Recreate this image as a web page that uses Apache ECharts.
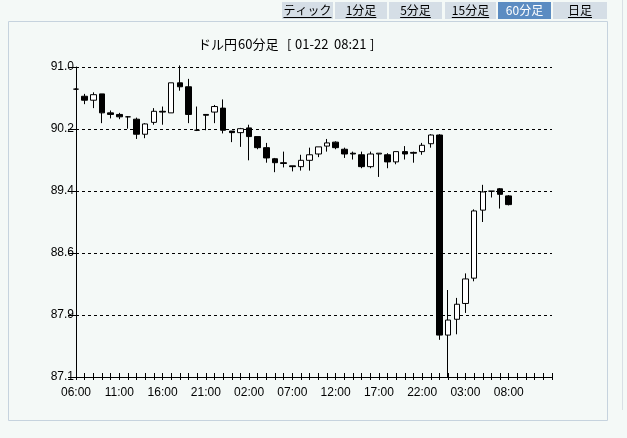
<!DOCTYPE html>
<html><head><meta charset="utf-8">
<script src="https://cdn.jsdelivr.net/npm/echarts@6/dist/echarts.min.js"></script>
<style>html,body{margin:0;padding:0;background:#f4f9f7;}#c{width:627px;height:438px;}</style>
</head><body><div id="c"></div>
<script>
// ---- data ----
const hours = ['06:00','07:00','08:00','09:00','10:00','11:00','12:00','13:00','14:00','15:00','16:00','17:00','18:00','19:00','20:00','21:00','22:00','23:00',
 '00:00','01:00','02:00','03:00','04:00','05:00','06:00','07:00','08:00','09:00','10:00','11:00','12:00','13:00','14:00','15:00','16:00','17:00','18:00','19:00','20:00','21:00','22:00','23:00',
 '00:00','01:00','02:00','03:00','04:00','05:00','06:00','07:00','08:00','09:00','10:00','11:00','12:00','13:00'];
const openP  = [90.72,90.63,90.58,90.66,90.42,90.40,90.37,90.34,90.15,90.30,90.44,90.42,90.80,90.75,90.20,90.40,90.43,90.48,90.19,90.17,
  90.23,90.12,89.98,89.84,89.79,89.75,89.74,89.82,89.90,90.00,90.05,89.96,89.91,89.89,89.74,89.90,89.89,89.80,89.93,89.92,
  89.93,90.03,90.14,87.61,87.81,88.01,88.33,89.19,89.43,89.46,89.37];
const closeP = [90.72,90.58,90.65,90.42,90.40,90.37,90.37,90.15,90.28,90.44,90.43,90.80,90.75,90.40,90.20,90.39,90.50,90.20,90.17,90.22,
  90.12,89.98,89.85,89.79,89.78,89.74,89.82,89.89,89.99,90.04,89.98,89.90,89.90,89.74,89.90,89.91,89.80,89.93,89.90,89.91,
  90.01,90.14,87.61,87.80,88.00,88.32,89.18,89.42,89.43,89.39,89.26];
const lowP   = [90.71,90.53,90.48,90.29,90.35,90.34,90.22,90.09,90.10,90.27,90.27,90.42,90.70,90.29,90.19,90.20,90.29,90.16,90.05,89.99,
  89.82,89.96,89.79,89.67,89.73,89.68,89.69,89.69,89.86,89.93,89.96,89.85,89.83,89.72,89.72,89.61,89.72,89.77,89.83,89.79,
  89.89,89.98,87.55,87.08,87.62,87.89,88.29,89.04,89.35,89.21,89.25];
const highP  = [90.73,90.66,90.68,90.66,90.45,90.42,90.38,90.36,90.29,90.48,90.50,90.80,91.02,90.85,90.50,90.40,90.52,90.59,90.19,90.23,
  90.27,90.12,90.04,89.85,89.93,89.75,89.89,89.98,89.99,90.09,90.06,89.98,89.93,89.93,89.93,89.91,89.91,89.93,90.00,89.93,
  90.04,90.15,90.15,88.18,88.08,88.39,89.20,89.51,89.43,89.47,89.38];
const yTickLabels = ['87.1','87.9','88.6','89.4','90.2','91.0'];
const yMin = 87.08, yMax = 91.0;
const tabLabels = ['ティック','1分足','5分足','15分足','60分足','日足'];
const selectedTab = 4;
const titleParts = ['ドル円', '60分足', '[', '01-22', '08:21', ']'];

// ---- layout ----
const tabX = [282, 335, 389, 445, 498, 553];
const tabW = [51, 52, 53, 51, 53, 54];
const titleX = [198, 238, 287, 295, 334, 370];
const candles = openP.map((o, i) => [o, closeP[i], lowP[i], highP[i]]);

const ctx = document.createElement('canvas').getContext('2d');
const tabFont = '12px "Noto Sans CJK JP", sans-serif';
ctx.font = tabFont;

const graphics = [
  { type: 'rect', shape: { x: 8.5, y: 21.5, width: 599, height: 399 }, style: { fill: 'none', stroke: '#c6d3de', lineWidth: 1 }, silent: true },
  { type: 'line', shape: { x1: 622.5, y1: 0, x2: 622.5, y2: 410 }, style: { stroke: '#d9dfe4', lineWidth: 1 }, silent: true }
];
titleParts.forEach((t, i) => {
  graphics.push({ type: 'text', x: titleX[i], y: 44, style: { text: t, font: '13px "Noto Sans CJK JP", sans-serif', fill: '#000', verticalAlign: 'middle' } });
});
tabLabels.forEach((t, i) => {
  const sel = i === selectedTab;
  graphics.push({ type: 'rect', shape: { x: tabX[i], y: 2, width: tabW[i], height: 17 }, style: { fill: sel ? '#5b8cc2' : '#d5dee6' }, silent: true });
  const cx = tabX[i] + tabW[i] / 2;
  graphics.push({ type: 'text', x: cx, y: 10.5, style: { text: t, font: tabFont, fill: sel ? '#fff' : '#000', align: 'center', verticalAlign: 'middle' } });
  if (!sel) {
    const w = ctx.measureText(t).width;
    graphics.push({ type: 'line', shape: { x1: cx - w / 2, y1: 17.5, x2: cx + w / 2, y2: 17.5 }, style: { stroke: '#000', lineWidth: 1 }, silent: true });
  }
});

const numFont = { fontFamily: 'Liberation Sans', fontSize: 12, color: '#000' };
const chart = echarts.init(document.getElementById('c'), null, { renderer: 'canvas' });
chart.setOption({
  animation: false,
  backgroundColor: '#f4f9f7',
  grid: { left: 76, top: 67, right: 75, bottom: 61, containLabel: false },
  xAxis: [
    { type: 'category', data: hours, boundaryGap: false, position: 'bottom',
      axisLine: { onZero: false, lineStyle: { color: '#000', width: 1 } },
      axisTick: { show: true, inside: false, length: 3, interval: 0, lineStyle: { color: '#000' } },
      axisLabel: Object.assign({ interval: (i) => i % 5 === 0 && i <= 50, margin: 10 }, numFont),
      splitLine: { show: false } },
    { type: 'category', data: hours, boundaryGap: false, position: 'bottom',
      axisLine: { show: false, onZero: false },
      axisTick: { show: true, inside: true, length: 4, interval: 0, lineStyle: { color: '#000' } },
      axisLabel: { show: false }, splitLine: { show: false } }
  ],
  yAxis: [
    { type: 'category', data: yTickLabels, boundaryGap: false, position: 'left',
      axisLine: { show: true, onZero: false, lineStyle: { color: '#000' } },
      axisTick: { show: true, length: 8, interval: 0, lineStyle: { color: '#000' } },
      axisLabel: Object.assign({ interval: 0, margin: 2 }, numFont),
      splitLine: { show: true, interval: 0, lineStyle: { color: '#000', type: [3, 3], width: 1 } } },
    { type: 'value', min: yMin, max: yMax, position: 'left', show: false, scale: true,
      splitLine: { show: false } }
  ],
  series: [{
    type: 'candlestick', xAxisIndex: 0, yAxisIndex: 1, data: candles, barWidth: 6, clip: false,
    itemStyle: { color: '#ffffff', color0: '#000000', borderColor: '#000000', borderColor0: '#000000', borderWidth: 1 }
  }],
  graphic: graphics
});
</script>
</body></html>
